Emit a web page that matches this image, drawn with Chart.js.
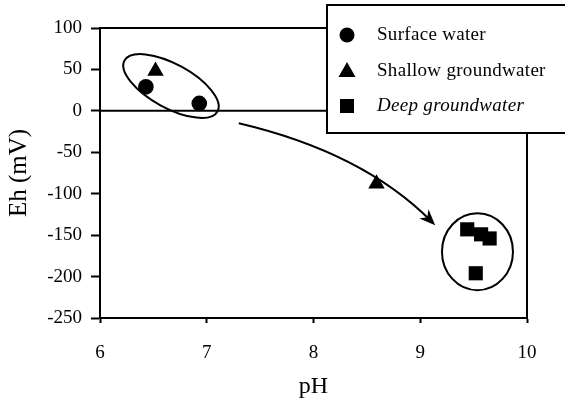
<!DOCTYPE html>
<html>
<head>
<meta charset="utf-8">
<script src="https://cdn.jsdelivr.net/npm/chart.js@4"></script>
<style>
  html, body { margin: 0; padding: 0; background: #fff; }
  #wrap { width: 565px; height: 403px; }
</style>
</head>
<body>
<div id="wrap"><canvas id="ehChart" width="565" height="403"></canvas></div>
<script>
// --- Data ---
const seriesNames = ['Surface water', 'Shallow groundwater', 'Deep groundwater'];
const surfacePH = [6.43, 6.93];
const surfaceEh = [29, 9];
const shallowPH = [6.52, 8.59];
const shallowEh = [48, -88];
const deepPH = [9.44, 9.57, 9.65, 9.52];
const deepEh = [-143, -149, -154, -196];
const phTicks = [6, 7, 8, 9, 10];
const ehTicks = [-250, -200, -150, -100, -50, 0, 50, 100];

// annotation anchors in data units (pH, Eh)
const groupCenters = [[6.665, 30], [9.536, -170]];
const arrowPath = [[7.30, -15], [8.46, -50], [9.14, -138]];

const SERIF = '"Liberation Serif", "Times New Roman", serif';

const toXY = (ph, eh) => ph.map((v, i) => ({ x: v, y: eh[i] }));

// --- Annotation plugin: frame, zero line, ellipses, arrow, legend box ---
const decorations = {
    id: 'decorations',
    beforeDatasetsDraw(chart) {
        const { ctx, chartArea: a, scales: { x, y } } = chart;
        ctx.save();
        ctx.strokeStyle = '#000';
        ctx.lineWidth = 2;

        // top and right frame lines
        ctx.beginPath();
        ctx.moveTo(a.left, a.top);
        ctx.lineTo(a.right, a.top);
        ctx.lineTo(a.right, a.bottom);
        ctx.stroke();

        // Eh = 0 line
        const y0 = y.getPixelForValue(0);
        ctx.beginPath();
        ctx.moveTo(a.left, y0);
        ctx.lineTo(a.right, y0);
        ctx.stroke();

        // group ellipses
        const c1 = groupCenters[0], c2 = groupCenters[1];
        ctx.beginPath();
        ctx.ellipse(x.getPixelForValue(c1[0]), y.getPixelForValue(c1[1]), 53, 22, 0.5, 0, Math.PI * 2);
        ctx.stroke();
        ctx.beginPath();
        ctx.ellipse(x.getPixelForValue(c2[0]), y.getPixelForValue(c2[1]), 35.5, 38.5, 0, 0, Math.PI * 2);
        ctx.stroke();

        // curved arrow
        const p = arrowPath.map(d => [x.getPixelForValue(d[0]), y.getPixelForValue(d[1])]);
        ctx.beginPath();
        ctx.moveTo(p[0][0], p[0][1]);
        ctx.quadraticCurveTo(p[1][0], p[1][1], p[2][0] - 4, p[2][1] - 4);
        ctx.stroke();
        const ang = Math.atan2(p[2][1] - p[1][1], p[2][0] - p[1][0]);
        const len = 16, half = 6.5;
        const tx = p[2][0], ty = p[2][1];
        const bx = tx - Math.cos(ang) * len, by = ty - Math.sin(ang) * len;
        const nx = -Math.sin(ang), ny = Math.cos(ang);
        ctx.fillStyle = '#000';
        ctx.beginPath();
        ctx.moveTo(tx, ty);
        ctx.lineTo(bx + nx * half, by + ny * half);
        ctx.lineTo(tx - Math.cos(ang) * len * 0.7, ty - Math.sin(ang) * len * 0.7);
        ctx.lineTo(bx - nx * half, by - ny * half);
        ctx.closePath();
        ctx.fill();
        ctx.restore();
    },
    afterDraw(chart) {
        const { ctx } = chart;
        ctx.save();
        // legend box overlapping the top-right corner
        ctx.fillStyle = '#fff';
        ctx.strokeStyle = '#000';
        ctx.lineWidth = 2;
        ctx.fillRect(327, 5, 250, 128);
        ctx.strokeRect(327, 5, 250, 128);

        const rows = [35, 71, 106];
        ctx.fillStyle = '#000';
        chart.data.datasets.forEach((ds, i) => {
            const cy = rows[i];
            ctx.beginPath();
            if (ds.pointStyle === 'circle') {
                ctx.arc(347, cy, 7.5, 0, Math.PI * 2);
            } else if (ds.pointStyle === 'triangle') {
                ctx.moveTo(347, cy - 9);
                ctx.lineTo(355.5, cy + 6);
                ctx.lineTo(338.5, cy + 6);
                ctx.closePath();
            } else {
                ctx.rect(340, cy - 7, 14, 14);
            }
            ctx.fill();
            ctx.font = (i === 2 ? 'italic ' : '') + '19px ' + SERIF;
            ctx.textBaseline = 'middle';
            ctx.textAlign = 'left';
            ctx.letterSpacing = '0.3px';
            ctx.fillText(ds.label, 377, cy);
        });
        ctx.restore();
    }
};

const ctx = document.getElementById('ehChart');
new Chart(ctx, {
    type: 'scatter',
    data: {
        datasets: [
            {
                label: seriesNames[0],
                data: toXY(surfacePH, surfaceEh),
                pointStyle: 'circle',
                pointRadius: 7.8,
                backgroundColor: '#000',
                borderColor: '#000',
                borderWidth: 0
            },
            {
                label: seriesNames[1],
                data: toXY(shallowPH, shallowEh),
                pointStyle: 'triangle',
                pointRadius: 9.5,
                backgroundColor: '#000',
                borderColor: '#000',
                borderWidth: 0
            },
            {
                label: seriesNames[2],
                data: toXY(deepPH, deepEh),
                pointStyle: 'rect',
                pointRadius: 10,
                backgroundColor: '#000',
                borderColor: '#000',
                borderWidth: 0
            }
        ]
    },
    options: {
        responsive: false,
        animation: false,
        devicePixelRatio: 1,
        layout: {
            padding: { top: 28, right: 38, left: 0, bottom: 0 }
        },
        scales: {
            x: {
                type: 'linear',
                min: 6,
                max: 10,
                afterFit: s => { s.height = 85; },
                afterBuildTicks: s => { s.ticks = phTicks.map(v => ({ value: v })); },
                ticks: {
                    color: '#000',
                    font: { family: SERIF, size: 19 },
                    padding: 19
                },
                grid: {
                    drawOnChartArea: false,
                    color: '#000',
                    tickLength: 5,
                    tickWidth: 2
                },
                border: { color: '#000', width: 2 },
                title: {
                    display: true,
                    text: 'pH',
                    color: '#000',
                    font: { family: SERIF, size: 24 },
                    padding: { bottom: 2 }
                }
            },
            y: {
                type: 'linear',
                min: -250,
                max: 100,
                afterFit: s => { s.width = 100; },
                afterBuildTicks: s => { s.ticks = ehTicks.map(v => ({ value: v })); },
                ticks: {
                    color: '#000',
                    font: { family: SERIF, size: 19 },
                    padding: 9
                },
                grid: {
                    drawOnChartArea: false,
                    color: '#000',
                    tickLength: 9,
                    tickWidth: 2
                },
                border: { color: '#000', width: 2 },
                title: {
                    display: true,
                    text: 'Eh (mV)',
                    color: '#000',
                    font: { family: SERIF, size: 25 },
                    padding: { top: 4 }
                }
            }
        },
        plugins: {
            legend: { display: false },
            tooltip: { enabled: false }
        }
    },
    plugins: [decorations]
});
</script>
</body>
</html>
